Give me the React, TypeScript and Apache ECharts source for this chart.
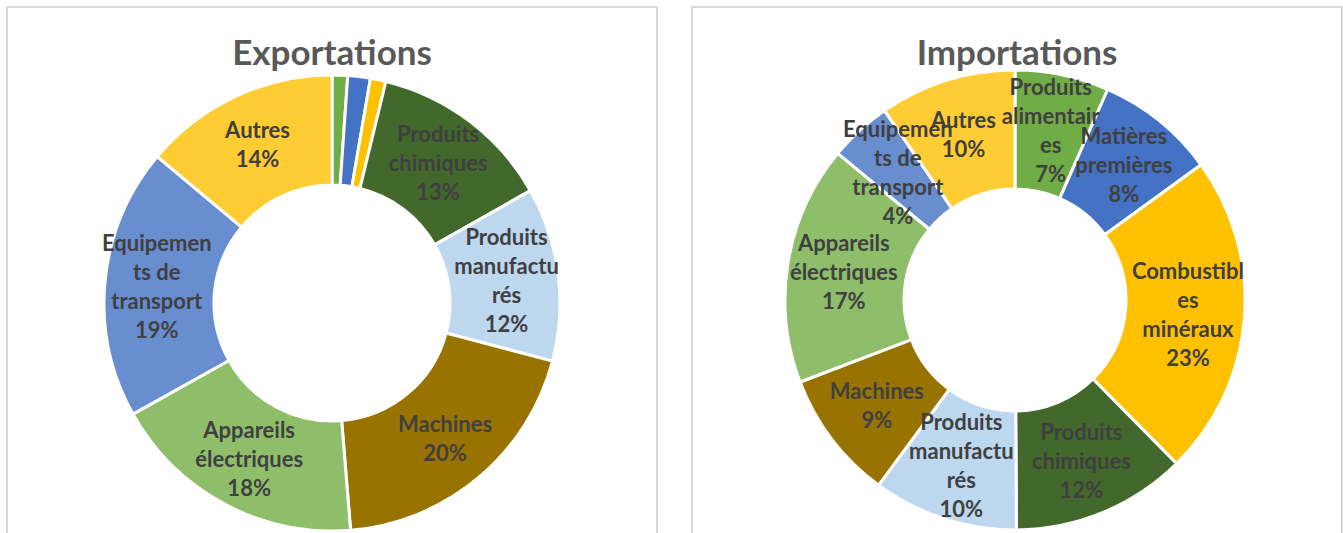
import React, { useEffect, useRef } from "react";
import * as echarts from "echarts";

const exportNames = [
  "Produits alimentaires",
  "Matières premières",
  "Combustibles minéraux",
  "Produits chimiques",
  "Produits manufacturés",
  "Machines",
  "Appareils électriques",
  "Equipements de transport",
  "Autres",
];
const exportValues = [1.1, 1.6, 1.1, 13.0, 12.3, 19.6, 18.2, 19.2, 13.9];
const exportLabels = [
  "",
  "",
  "",
  "Produits\nchimiques",
  "Produits\nmanufactu\nrés",
  "Machines",
  "Appareils\nélectriques",
  "Equipemen\nts de\ntransport",
  "Autres",
];

const importNames = [
  "Produits alimentaires",
  "Matières premières",
  "Combustibles minéraux",
  "Produits chimiques",
  "Produits manufacturés",
  "Machines",
  "Appareils électriques",
  "Equipements de transport",
  "Autres",
];
const importValues = [6.6, 8.4, 22.6, 12.3, 10.2, 9.1, 16.8, 4.4, 9.6];
const importLabels = [
  "Produits\nalimentair\nes",
  "Matières\npremières",
  "Combustibl\nes\nminéraux",
  "Produits\nchimiques",
  "Produits\nmanufactu\nrés",
  "Machines",
  "Appareils\nélectriques",
  "Equipemen\nts de\ntransport",
  "Autres",
];

const sliceColors = [
  "#70AD47",
  "#4472C4",
  "#FFC000",
  "#43682B",
  "#BDD7EE",
  "#997300",
  "#8EBE6A",
  "#698ED0",
  "#FFCD33",
];

const FONT = "Lato, 'Open Sans', sans-serif";

function buildData(names: string[], values: number[], labels: string[]) {
  return names.map((n, i) => ({
    name: n,
    value: values[i],
    itemStyle: { color: sliceColors[i] },
    label: { show: labels[i] !== "" },
  }));
}

export default function App() {
  const ref = useRef<HTMLDivElement>(null);
  useEffect(() => {
    if (!ref.current) return;
    const chart = echarts.init(ref.current, undefined, { renderer: "svg" });
    const labelStyle = (labels: string[]) => ({
      position: "inside",
      color: "#404040",
      fontFamily: FONT,
      fontWeight: "bold",
      fontSize: 22,
      lineHeight: 29,
      align: "center",
      overflow: "none",
      formatter: (p: any) => labels[p.dataIndex] + "\n" + Math.round(p.percent) + "%",
    });
    const pieBase = {
      type: "pie",
      startAngle: 90,
      clockwise: true,
      avoidLabelOverlap: false,
      minShowLabelAngle: 0,
      itemStyle: { borderColor: "#ffffff", borderWidth: 3 },
      labelLine: { show: false },
      labelLayout: { hideOverlap: false, moveOverlap: null },
      emphasis: { disabled: true },
    };
    chart.setOption({
      animation: false,
      backgroundColor: "#ffffff",
      graphic: [
        {
          type: "rect",
          shape: { x: 7, y: 7, width: 650, height: 600 },
          style: { fill: "#ffffff", stroke: "#D9D9D9", lineWidth: 2 },
          z: -10,
          silent: true,
        },
        {
          type: "rect",
          shape: { x: 692, y: 7, width: 650, height: 600 },
          style: { fill: "#ffffff", stroke: "#D9D9D9", lineWidth: 2 },
          z: -10,
          silent: true,
        },
        {
          type: "text",
          x: 332,
          y: 51,
          style: {
            text: "Exportations",
            fill: "#595959",
            font: `bold 35px ${FONT}`,
            textAlign: "center",
            textVerticalAlign: "middle",
          },
        },
        {
          type: "text",
          x: 1017,
          y: 51,
          style: {
            text: "Importations",
            fill: "#595959",
            font: `bold 35px ${FONT}`,
            textAlign: "center",
            textVerticalAlign: "middle",
          },
        },
      ],
      series: [
        {
          ...pieBase,
          center: [332, 303],
          radius: [118, 228],
          label: labelStyle(exportLabels),
          data: buildData(exportNames, exportValues, exportLabels),
        },
        {
          ...pieBase,
          center: [1015, 300],
          radius: [111, 230],
          label: labelStyle(importLabels),
          data: buildData(importNames, importValues, importLabels),
        },
      ],
    });
    return () => chart.dispose();
  }, []);
  return (
    <div
      ref={ref}
      style={{ position: "absolute", left: 0, top: 0, width: 1343, height: 533 }}
    />
  );
}
